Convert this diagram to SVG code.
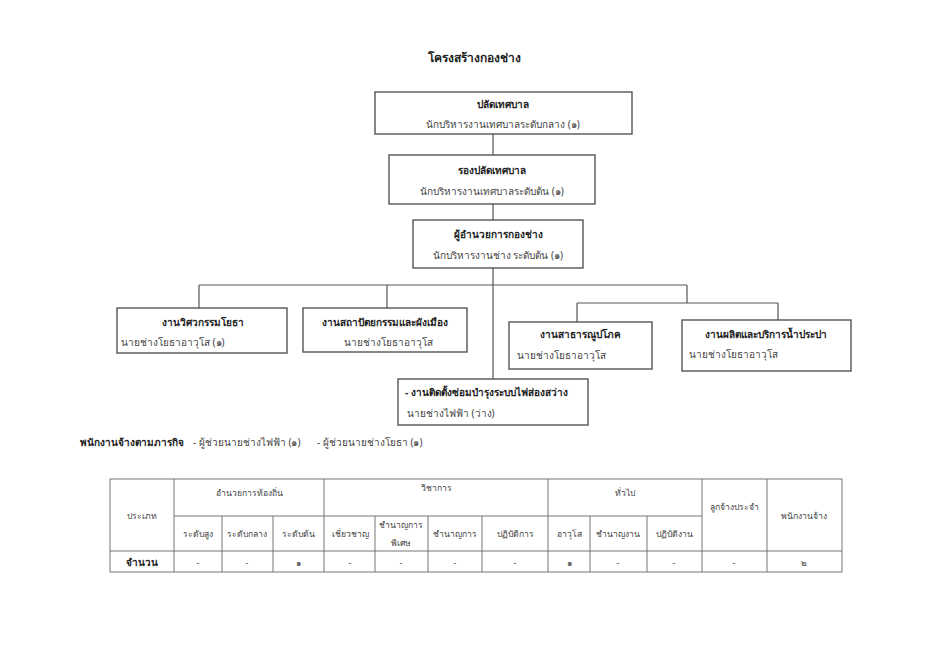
<svg xmlns="http://www.w3.org/2000/svg" width="950" height="672" viewBox="0 0 950 672">
<style>
text{font-family:"Noto Sans","DejaVu Sans",sans-serif;font-size:10px;fill:#444}
.b{font-weight:bold;fill:#222}
.t{font-size:12px}
.c{text-anchor:middle}
.s{font-size:8.6px}
.box{fill:#fff;stroke:#555;stroke-width:1.4}
.ln{stroke:#555;stroke-width:1.2;fill:none}
.g{stroke:#666;stroke-width:0.9;fill:none}
</style>
<rect width="950" height="672" fill="#fff"/>
<text class="b t c" x="474" y="62">โครงสร้างกองช่าง</text>
<g id="connectors">
<path class="ln" d="M493 134V155M493 204V220M493 268V379M199 285H687M199 285V308M387 285V308M687 285V303M577 303H778M577 303V322M778 303V320"/>
</g>
<g id="n1"><rect class="box" x="375" y="92" width="257" height="42"/>
<text class="b c" x="503" y="108">ปลัดเทศบาล</text>
<text class="c" x="503" y="128">นักบริหารงานเทศบาลระดับกลาง (๑)</text></g>
<g id="n2"><rect class="box" x="389" y="155" width="206" height="49"/>
<text class="b c" x="492" y="174">รองปลัดเทศบาล</text>
<text class="c" x="492" y="195">นักบริหารงานเทศบาลระดับต้น (๑)</text></g>
<g id="n3"><rect class="box" x="413" y="220" width="170" height="48"/>
<text class="b c" x="498" y="238">ผู้อำนวยการกองช่าง</text>
<text class="c" x="498" y="259">นักบริหารงานช่าง ระดับต้น (๑)</text></g>
<g id="n4"><rect class="box" x="117" y="308" width="170" height="45"/>
<text class="b c" x="203" y="326">งานวิศวกรรมโยธา</text>
<text x="121" y="346">นายช่างโยธาอาวุโส  (๑)</text></g>
<g id="n5"><rect class="box" x="303" y="308" width="164" height="44"/>
<text class="b c" x="385" y="326">งานสถาปัตยกรรมและผังเมือง</text>
<text class="c" x="388" y="346">นายช่างโยธาอาวุโส</text></g>
<g id="n6"><rect class="box" x="509" y="322" width="143" height="47"/>
<text class="b c" x="580" y="338">งานสาธารณูปโภค</text>
<text x="517" y="359">นายช่างโยธาอาวุโส</text></g>
<g id="n7"><rect class="box" x="682" y="320" width="169" height="51"/>
<text class="b c" x="766" y="338">งานผลิตและบริการน้ำประปา</text>
<text x="689" y="358">นายช่างโยธาอาวุโส</text></g>
<g id="n8"><rect class="box" x="398" y="379" width="190" height="46"/>
<text class="b" x="405" y="396">- งานติดตั้งซ่อมบำรุงระบบไฟส่องสว่าง</text>
<text x="407" y="417">นายช่างไฟฟ้า (ว่าง)</text></g>
<g id="staff">
<text class="b" x="80" y="446">พนักงานจ้างตามภารกิจ</text>
<text x="193" y="446">- ผู้ช่วยนายช่างไฟฟ้า (๑)</text>
<text x="317" y="446">- ผู้ช่วยนายช่างโยธา (๑)</text>
</g>
<g id="table">
<rect class="g" x="110" y="479" width="732" height="93"/>
<path class="g" d="M110 551H842M174 516H702M174 479V572M324 479V572M548 479V572M702 479V572M767 479V572M222 516V572M273 516V572M375 516V572M428 516V572M482 516V572M590 516V572M647 516V572"/>
<text class="c s" x="142" y="519">ประเภท</text>
<text class="c s" x="249" y="496">อำนวยการท้องถิ่น</text>
<text class="c s" x="436" y="491">วิชาการ</text>
<text class="c s" x="625" y="496">ทั่วไป</text>
<text class="c s" x="734" y="510">ลูกจ้างประจำ</text>
<text class="c s" x="804" y="519">พนักงานจ้าง</text>
<text class="c s" x="198" y="537">ระดับสูง</text>
<text class="c s" x="247" y="537">ระดับกลาง</text>
<text class="c s" x="298" y="537">ระดับต้น</text>
<text class="c s" x="350" y="537">เชี่ยวชาญ</text>
<text class="c s" x="401" y="528">ชำนาญการ</text>
<text class="c s" x="401" y="546">พิเศษ</text>
<text class="c s" x="455" y="537">ชำนาญการ</text>
<text class="c s" x="515" y="537">ปฏิบัติการ</text>
<text class="c s" x="569" y="537">อาวุโส</text>
<text class="c s" x="618" y="537">ชำนาญงาน</text>
<text class="c s" x="674" y="537">ปฏิบัติงาน</text>
<text class="b c" x="142" y="566">จำนวน</text>
<text class="c s" x="198" y="566">-</text>
<text class="c s" x="247" y="566">-</text>
<text class="c s" x="298" y="566">๑</text>
<text class="c s" x="350" y="566">-</text>
<text class="c s" x="401" y="566">-</text>
<text class="c s" x="455" y="566">-</text>
<text class="c s" x="515" y="566">-</text>
<text class="c s" x="569" y="566">๑</text>
<text class="c s" x="618" y="566">-</text>
<text class="c s" x="674" y="566">-</text>
<text class="c s" x="734" y="566">-</text>
<text class="c s" x="804" y="566">๒</text>
</g>
</svg>
